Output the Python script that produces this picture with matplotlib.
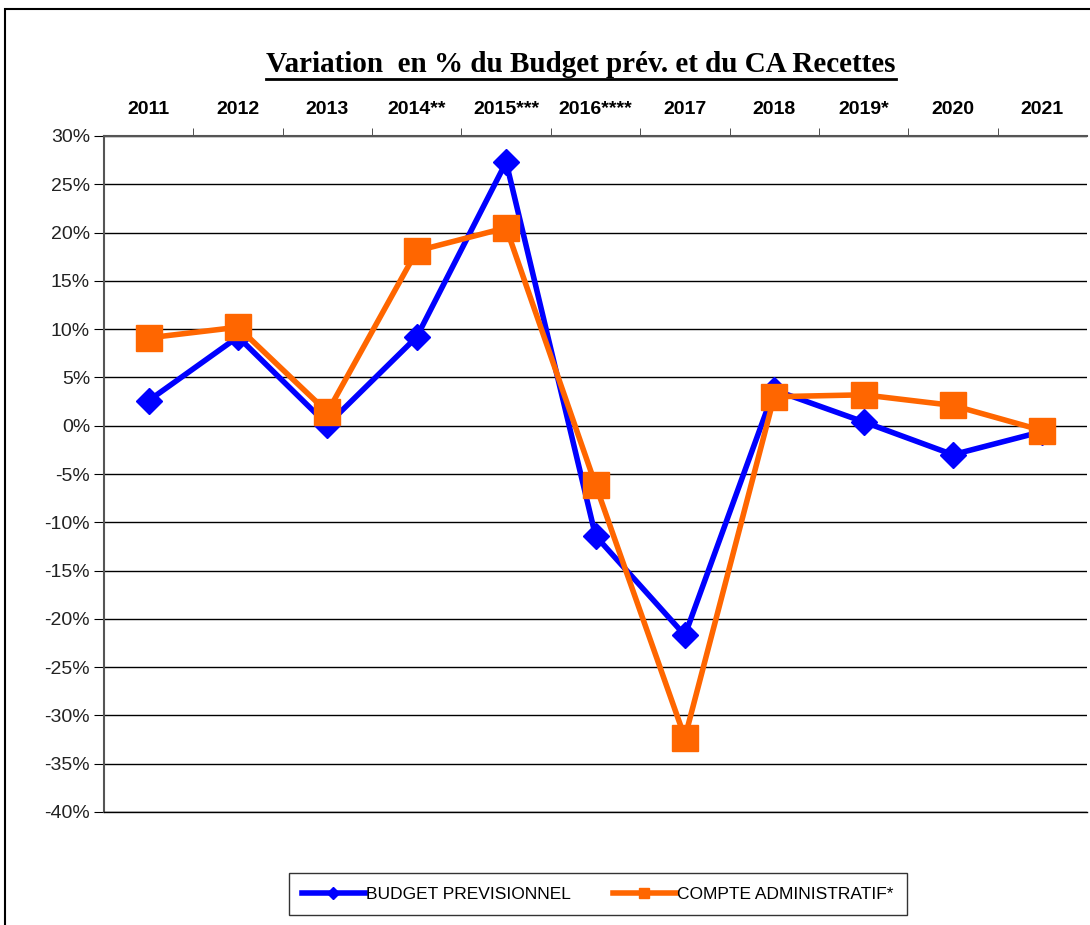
import matplotlib
matplotlib.use("Agg")
import matplotlib.pyplot as plt
from matplotlib.lines import Line2D
from matplotlib.patches import Rectangle
from matplotlib.ticker import FixedLocator, PercentFormatter

years = ['2011', '2012', '2013', '2014**', '2015***', '2016****',
         '2017', '2018', '2019*', '2020', '2021']
budget_prev = [2.6, 9.2, 0.1, 9.2, 27.3, -11.4, -21.7, 3.7, 0.4, -3.0, -0.6]
compte_admin = [9.1, 10.2, 1.4, 18.1, 20.5, -6.1, -32.3, 3.0, 3.2, 2.1, -0.5]
y_ticks = list(range(-40, 31, 5))

plt.rcParams['font.family'] = ['Liberation Sans', 'DejaVu Sans']
plt.rcParams['axes.unicode_minus'] = False

fig = plt.figure(figsize=(10.9, 9.25), dpi=100)
ax = fig.add_axes([104 / 1090, 1 - 812 / 925, 983 / 1090, 676 / 925])

x = list(range(len(years)))
ax.plot(x, budget_prev, color='#0000FF', lw=4, marker='D', markersize=13,
        label='BUDGET PREVISIONNEL', zorder=3)
ax.plot(x, compte_admin, color='#FF6600', lw=4, marker='s', markersize=19,
        label='COMPTE ADMINISTRATIF*', zorder=4)

ax.set_xlim(-0.5, len(years) - 0.5)
ax.set_ylim(-40, 30)
ax.yaxis.set_major_locator(FixedLocator(y_ticks))
ax.yaxis.set_major_formatter(PercentFormatter(decimals=0))
ax.grid(axis='y', color='black', lw=1)
ax.set_axisbelow(True)

# categories on top, tick marks between categories
ax.xaxis.tick_top()
ax.set_xticks(x)
ax.set_xticklabels(years, fontweight='bold', fontsize=14)
ax.set_xticks([i + 0.5 for i in x[:-1]], minor=True)
ax.tick_params(axis='x', which='major', length=0, pad=13)
ax.tick_params(axis='x', which='minor', length=6, direction='out', color='#333333')
ax.tick_params(axis='y', length=7, direction='out', labelsize=14, pad=3,
               labelcolor='#222222')

ax.spines['right'].set_visible(False)
ax.spines['bottom'].set_color('black')
ax.spines['bottom'].set_linewidth(1.0)
ax.spines['left'].set_linewidth(1.5)
ax.spines['left'].set_color('#555555')
ax.spines['top'].set_linewidth(1.5)
ax.spines['top'].set_color('#555555')

# legend
leg = fig.legend(handles=[
    Line2D([], [], color='#0000FF', lw=4, marker='D', markersize=6),
    Line2D([], [], color='#FF6600', lw=4, marker='s', markersize=7)],
    labels=['BUDGET PREVISIONNEL', 'COMPTE ADMINISTRATIF*'],
    loc='center', bbox_to_anchor=(598 / 1090, 1 - 894 / 925), ncol=2,
    frameon=True, fancybox=False, edgecolor='black', fontsize=12.5,
    handlelength=3.6, handletextpad=0.1, columnspacing=2.4,
    borderpad=0.75, borderaxespad=0)
leg.get_frame().set_linewidth(1.0)

# outer frame
fig.patches.append(Rectangle((5 / 1090, -0.05), 1.2, 1 - 9 / 925 + 0.05,
                             transform=fig.transFigure, fill=False,
                             edgecolor='black', lw=1.5))

# underlined title
title = fig.text(581 / 1090, 1 - 65 / 925,
                 'Variation  en % du Budget prév. et du CA Recettes',
                 ha='center', va='center', fontsize=21, fontweight='bold',
                 family='Liberation Serif')
fig.canvas.draw()
bb = title.get_window_extent().transformed(fig.transFigure.inverted())
fig.add_artist(Line2D([bb.x0, bb.x1], [bb.y0 - 0.001, bb.y0 - 0.001],
                      transform=fig.transFigure, color='black', lw=2))

fig.savefig('out.png', dpi=100)
